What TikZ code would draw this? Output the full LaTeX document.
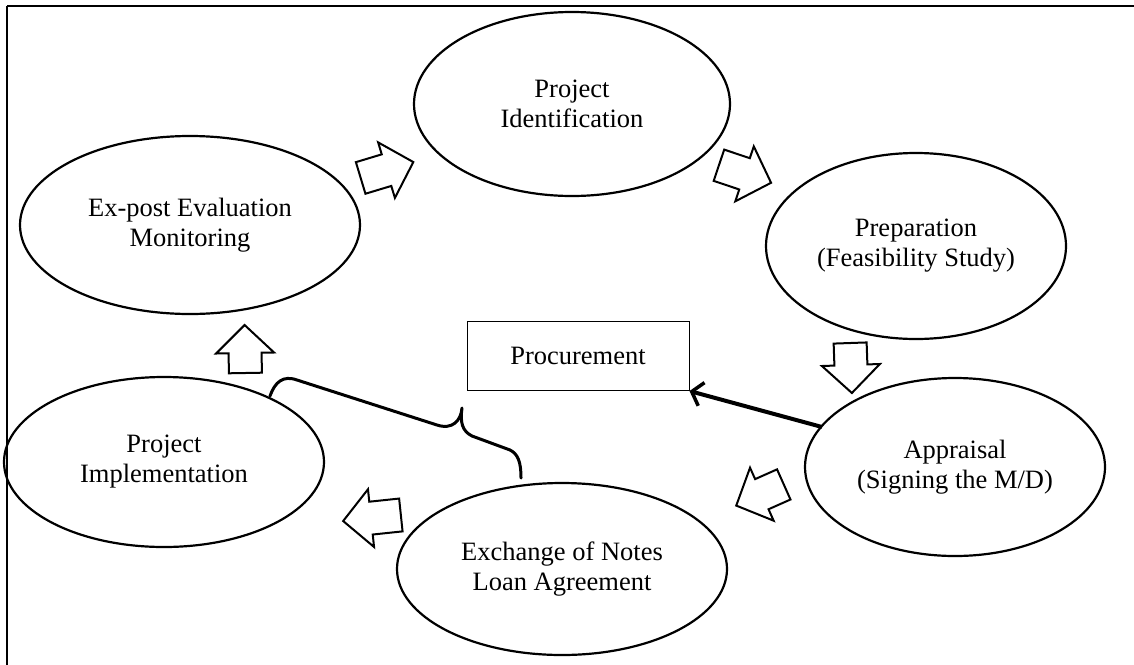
\documentclass[tikz,border=0pt]{standalone}
\usepackage{fontspec}
\setmainfont{Liberation Serif}
\usetikzlibrary{shapes.geometric,arrows.meta}
\begin{document}
\begin{tikzpicture}[x=1pt,y=-1pt,
  stage/.style={draw,line width=2.2pt,ellipse,align=center,inner sep=0pt,
    font=\fontsize{26.5}{30}\selectfont},
  pics/blockarr/.style={code={
    \draw[line width=2pt,line join=miter]
      ({-#1/2},-16.5) -- ({#1/2-28},-16.5) -- ({#1/2-28},-29) -- ({#1/2},0)
      -- ({#1/2-28},29) -- ({#1/2-28},16.5) -- ({-#1/2},16.5) -- cycle;}},
  thickarrow/.style={line width=4pt,-{Straight Barb[length=10pt,width=24pt,line width=3.5pt]}},
  bracepath/.style={line width=3pt,line cap=round,line join=round}]
\useasboundingbox (0,0) rectangle (1134,664);
\clip (0,0) rectangle (1134,664);
\draw[line width=2pt] (7,6) -- (1150,6);
\draw[line width=2pt] (7,6) -- (7,680);

\node[stage,minimum width=316pt,minimum height=184pt] (ident) at (572,104) {Project\\Identification};
\node[stage,minimum width=340pt,minimum height=178pt] (expost) at (190,225) {Ex-post Evaluation\\Monitoring};
\node[stage,minimum width=300pt,minimum height=186pt] (prep) at (916,246) {Preparation\\(Feasibility Study)};
\node[stage,minimum width=300pt,minimum height=178pt] (appr) at (955,467) {Appraisal\\(Signing the M/D)};
\node[stage,minimum width=330pt,minimum height=172pt] (exch) at (562,569) {Exchange of Notes\\Loan Agreement};
\node[stage,minimum width=320pt,minimum height=170pt] (impl) at (164,462) {Project\\Implementation};

\node[draw,line width=1pt,minimum width=222pt,minimum height=69pt,inner sep=0pt,
  font=\fontsize{26.5}{30}\selectfont] (proc) at (578,356) {Procurement};

\pic[rotate=16.8] (a1) at (387,170) {blockarr=55};
\pic[rotate=-18.6] (a2) at (745,174) {blockarr=55};
\pic[rotate=-88] (a3) at (851,368) {blockarr=50};
\pic[rotate=204] (a4) at (760,495) {blockarr=52};
\pic[rotate=186] (a5) at (372,518) {blockarr=58};
\pic[rotate=91] (a6) at (245,349) {blockarr=48};

\coordinate (arrstart) at (822,427);
\draw[thickarrow] (arrstart) -- (proc.south east);

\coordinate (brA) at (270,396);
\coordinate (brM) at (462,408);
\coordinate (brB) at (521,478);
\draw[bracepath] (brA) .. controls (275,382) and (283,375) .. (297,380)
  -- (437,425) .. controls (452,430) and (461,421) .. (brM)
  .. controls (460,422) and (462,431) .. (472,436)
  -- (510,450) .. controls (518,454) and (521,462) .. (brB);
\end{tikzpicture}
\end{document}
